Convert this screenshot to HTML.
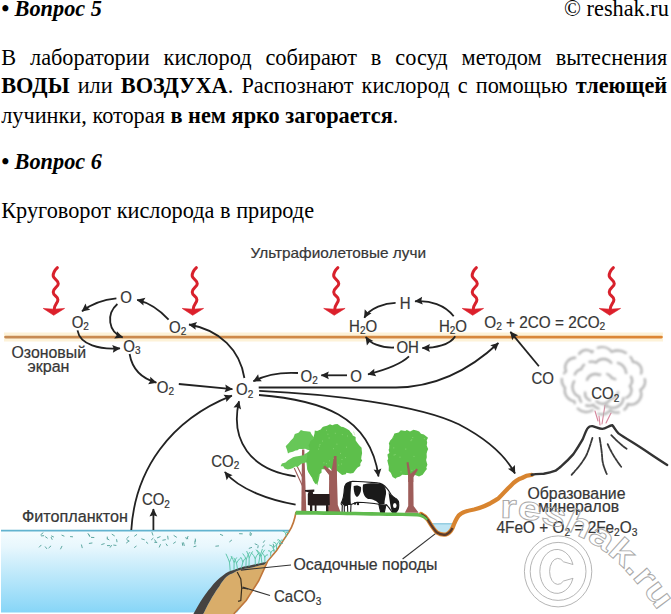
<!DOCTYPE html>
<html><head><meta charset="utf-8">
<style>
html,body{margin:0;padding:0;background:#fff;}
body{width:671px;height:614px;overflow:hidden;position:relative;font-family:"Liberation Serif",serif;color:#000;}
.t{position:absolute;white-space:nowrap;font-size:22.3px;line-height:1;}
.bi{font-weight:bold;font-style:italic}
.j{position:absolute;left:1.2px;width:666px;font-size:22.3px;line-height:1;text-align:justify;text-align-last:justify;white-space:normal;}
svg{position:absolute;left:0;top:0}
svg text{font-family:"Liberation Sans",sans-serif;fill:#363636;font-size:15px}
#labels text{stroke:#363636;stroke-width:0.2px}
</style></head><body>
<div class="t bi" style="left:1.2px;top:-2.5px">• Вопрос 5</div>
<div class="t" style="right:2.1px;top:-2.1px">© reshak.ru</div>
<div class="j" style="top:46.7px">В лаборатории кислород собирают в сосуд методом вытеснения</div>
<div class="j" style="top:75.3px"><b>ВОДЫ</b> или <b>ВОЗДУХА</b>. Распознают кислород с помощью <b>тлеющей</b></div>
<div class="t" style="left:1.2px;top:105.3px">лучинки, которая <b>в нем ярко загорается</b>.</div>
<div class="t bi" style="left:1.2px;top:151px">• Вопрос 6</div>
<div class="t" style="left:1.2px;top:200px">Круговорот кислорода в природе</div>

<svg width="671" height="614" viewBox="0 0 671 614">
<defs>
  <filter id="bl" x="-10%" y="-10%" width="120%" height="120%"><feGaussianBlur stdDeviation="0.85"/></filter>
  <linearGradient id="wg" gradientUnits="userSpaceOnUse" x1="0" y1="530" x2="0" y2="613">
    <stop offset="0" stop-color="#f5fcfe"/>
    <stop offset="0.2" stop-color="#e8f7fd"/>
    <stop offset="0.45" stop-color="#c8ecfb"/>
    <stop offset="1" stop-color="#86d5f7"/>
  </linearGradient>
  <marker id="ah" markerUnits="userSpaceOnUse" markerWidth="12" markerHeight="12" viewBox="-10 -6 12 12" refX="0" refY="0" orient="auto">
    <path d="M0.5,0 L-7.5,-3.9 L-6.3,0 L-7.5,3.9 Z" fill="#222"/>
  </marker>
  <g id="ra">
    <path d="M3.4,0.7 C1,3 -1,5 -0.8,9 C-0.5,12 4.3,13 4.3,16.7 C4.3,20 -0.8,21 -0.8,25 C-0.8,29 3.9,29 3.9,32.7 C3.9,36 0.6,37 0.3,42" fill="none" stroke="#d8212c" stroke-width="3" stroke-linecap="round"/>
    <path d="M-10.8,41.4 L0,42.2 L10.6,41.4 L-0.3,48.3 Z" fill="#dc202b" stroke="#dc202b" stroke-width="0.6" stroke-linejoin="round"/>
  </g>
</defs>


<!-- water left -->
<path d="M1,530.6 L289.1,530.6 L276.6,550.4 L267.7,561.1 L258.7,580.8 L246.2,600.5 L237,612.5 L1,612.5 Z" fill="url(#wg)"/>
<line x1="1" y1="530.6" x2="289.5" y2="530.6" stroke="#62b3cf" stroke-width="1.6"/>
<!-- tan layer -->
<path d="M203.3,614 C210,600 215,592 219.4,586.2 C224,578 229,574 231.9,573.7 C238,570 244,569 248,568.3 C255,567 260,565 264.1,564.7 L267.7,561.1 L258.7,580.8 L246.2,600.5 L233.7,614 Z" fill="#d9ad6a"/>
<!-- dark band -->
<path d="M193.4,614 C200,602 205,594 210.4,588 C215,582 219,578 222.9,575.5 C227,572 230,571 233.7,570.1 C240,567.5 245,566 249.8,565.6 C256,564 261,563 265.9,562 L268,561 L264.1,564.7 C260,565 255,567 248,568.3 C244,569 238,570 231.9,573.7 C229,574 224,578 219.4,586.2 C215,592 210,600 203.3,614 Z" fill="#464341"/>
<!-- cliff edge -->
<path d="M296,512 C295,518 294,524 289.1,531.6 L276.6,550.4 L267.7,561.1 L258.7,580.8 L246.2,600.5 L233.7,614" fill="none" stroke="#c0763a" stroke-width="1.6"/>
<!-- crack -->
<path d="M237.2,571.9 L240.8,579 L241.7,588 L240.8,600.5 L238.1,601.4 M241.7,588 L248,588.9" fill="none" stroke="#3a3020" stroke-width="1.2"/>
<!-- leaders -->
<path d="M240.8,570.1 L291,565" fill="none" stroke="#333" stroke-width="1.1"/>
<path d="M242.6,587.1 L270,595.5" fill="none" stroke="#333" stroke-width="1.1"/>
<path d="M402.6,559 L438.7,531.1" fill="none" stroke="#333" stroke-width="1.1"/>
<!-- pond -->
<path d="M432.5,523.8 L453.5,523.8 C452,530 449,534 446,534.5 C442,534.5 437,531 432.5,523.8 Z" fill="#bfe5f3"/>
<line x1="432" y1="523.8" x2="454" y2="523.8" stroke="#72bcd6" stroke-width="1"/>
<!-- right land profile -->
<path d="M421,514 C424,515.5 426.5,517.5 428,520 C431,525 434,530 437,532.5 C440,534.5 443,535 446,534.5 C449,533.5 451,531 452.5,528 C454,524 456,519 458.7,515.5 C462,512 468,510.5 474,509.5 C479,508.5 485,506 490,503.5 C494,501 496,500 498.3,498.5 C503,494 507,489 510.2,486.3 C514,482 518,479 522.2,477.9 C525,476 528,475 531.7,474.8" fill="none" stroke="#d8842f" stroke-width="4.3" stroke-linecap="round"/>
<path d="M421,514 C424,515.5 426.5,517.5 428,520 C431,525 434,530 437,532.5 C440,534.5 443,535 446,534.5 C449,533.5 451,531 452.5,528" fill="none" stroke="#5b3b2b" stroke-width="2.4"/>
<path d="M531.7,474.8 C536,474 540,474 543.7,473.8 C548,473 552,472 555.6,470.7 C558,469 560,467.5 560.8,466.7 C566,462 570,458 573.4,454.1 C577,449 580,444 582.5,439.7 C585,434 586,430 587.9,428 C589,426.5 591,426 592.4,426.1 C596,427 599,428.8 602.3,428.9 C606,428.5 609,425.5 612.2,425.2 C614,427 616,431 618.5,433.4 C622,436 627,439 631.2,441.5 C645,450 656,458 667.2,464.9" fill="none" stroke="#333" stroke-width="2.4" stroke-linecap="round"/>
<!-- volcano streaks -->
<g fill="none" stroke="#3a3a3a" stroke-width="1.8" stroke-dasharray="5 1.2 3 0.8" stroke-linecap="round">
<path d="M592.4,437.9 C590,446 588,452 586,455.9 C582,463 577,469 571.6,474.8"/>
<path d="M599.6,437.9 C601,446 602,453 602.3,459.5 C603,465 605,470 606.8,474"/>
<path d="M607.7,444.2 C611,452 616,460 621.2,466.7"/>
<path d="M611.3,435.2 C616,440 621,445 626.6,448.7"/>
</g>
<g fill="none" stroke="#d0708a" stroke-width="1.1" stroke-linecap="round" opacity="0.85">
<path d="M598,421 L595,411"/><path d="M602,424 L605,405"/><path d="M606,423 L611,413"/><path d="M600,425 L599,416"/>
</g>

<!-- trees -->
<g fill="#9e5d5a">
<path d="M302,449.5 L304.3,449.5 L306.3,511.5 L301.3,511.5 Z"/>
<path d="M323,467 L325,465.5 L331.5,471.5 L334,456 L336.5,456 L336.8,472 L337.8,505 L340.5,512 L326,512 L328.8,505 L329.2,475 Z"/>
<path d="M406.5,462.5 L408.5,462 L410.5,474 L416.5,468.5 L418,469.8 L413.3,477 L413.6,506 L418.7,512.8 L404.8,512.8 L408.2,506 L408.2,476 Z"/>
</g>
<path d="M294.2,467.9 L302.5,486 M297,466 L303,478" fill="none" stroke="#9e5d5a" stroke-width="1.1"/>
<path d="M285.7,446.3 L289.0,442.7 L290.8,440.4 L293.3,438.1 L294.8,434.0 L298.5,432.7 L300.9,430.0 L303.6,431.1 L306.4,431.3 L310.3,431.7 L311.7,434.4 L314.0,437.5 L313.5,440.9 L313.0,443.3 L313.4,446.5 L312.8,448.8 L312.6,451.9 L309.9,450.0 L308.1,450.1 L305.1,448.8 L303.0,449.1 L299.1,449.0 L297.6,450.3 L295.5,450.6 L292.9,451.8 L289.6,452.4 L288.0,453.6 L286.9,449.5 Z M280.6,466.2 L281.9,463.4 L285.5,462.6 L287.7,460.4 L290.1,459.1 L293.0,457.3 L295.8,456.4 L299.1,456.0 L303.0,455.2 L305.9,454.7 L306.9,456.8 L309.0,459.7 L306.6,461.9 L304.5,462.9 L301.9,463.5 L299.8,465.1 L297.5,467.0 L295.2,466.5 L293.0,468.1 L290.2,468.9 L287.8,469.4 L284.7,468.5 L283.1,466.3 Z M304.1,454.3 L306.8,452.9 L309.7,450.8 L311.3,450.5 L313.4,451.6 L316.2,454.0 L317.7,456.0 L319.2,457.5 L319.4,461.5 L319.5,464.3 L320.0,466.4 L320.4,470.1 L319.3,471.8 L319.7,475.0 L319.1,478.0 L318.6,480.6 L317.8,482.9 L317.4,485.6 L316.2,482.4 L313.3,480.6 L312.7,478.9 L310.9,476.0 L309.5,473.3 L308.0,470.9 L307.1,468.6 L306.8,465.8 L306.5,463.2 L305.7,459.2 L305.5,457.6 Z" fill="#67c758"/>
<path d="M308.5,445.2 L309.9,442.9 L310.3,440.9 L313.1,439.3 L313.9,435.7 L314.5,433.4 L314.8,430.6 L317.1,431.0 L320.6,429.5 L322.7,427.0 L323.9,426.6 L327.0,425.8 L330.0,424.2 L332.3,425.3 L334.8,424.2 L337.5,424.0 L341.2,426.8 L343.2,426.9 L346.7,428.7 L349.5,430.5 L350.3,431.7 L352.1,433.8 L352.8,435.6 L355.6,437.1 L355.7,440.4 L357.5,442.9 L359.2,445.3 L361.6,447.8 L361.8,450.6 L362.1,453.3 L361.4,456.7 L361.2,458.9 L362.2,460.5 L360.4,463.3 L360.3,466.0 L357.6,467.4 L355.9,469.6 L354.1,472.1 L353.3,473.1 L350.4,473.6 L346.4,472.7 L345.8,474.2 L342.1,475.0 L340.2,473.5 L337.2,471.1 L334.9,469.9 L332.1,470.6 L329.4,467.6 L326.2,468.4 L325.1,469.3 L321.6,469.2 L321.5,472.8 L318.4,475.1 L317.4,478.1 L318.0,480.9 L316.1,484.4 L314.8,483.3 L312.9,480.2 L312.5,477.8 L310.2,474.9 L308.2,472.1 L307.4,469.6 L307.4,467.9 L308.1,464.6 L306.1,461.5 L306.8,458.7 L307.1,457.4 L307.3,453.1 L309.2,451.5 L309.6,448.5 Z" fill="#5dbf4b"/>
<path d="M390.2,440.5 L392.1,438.4 L393.5,435.8 L394.4,433.6 L398.6,432.6 L400.8,430.2 L402.5,430.4 L405.3,430.9 L406.8,430.1 L410.0,431.4 L413.5,429.8 L416.6,430.6 L419.2,431.4 L421.0,433.7 L423.9,434.4 L428.0,437.7 L426.7,440.4 L427.2,442.4 L426.7,445.4 L427.7,447.9 L428.2,449.1 L427.2,451.3 L426.6,453.7 L426.8,457.3 L426.1,460.1 L426.6,461.9 L427.4,464.8 L426.3,467.4 L426.9,469.1 L425.3,471.0 L422.7,474.7 L419.0,476.6 L417.1,475.8 L413.7,474.4 L411.4,475.9 L407.9,475.0 L405.9,474.9 L402.2,474.7 L400.0,476.6 L396.7,477.5 L395.6,478.7 L392.6,476.9 L391.2,473.7 L390.7,472.8 L388.7,470.8 L388.8,466.6 L388.0,463.4 L387.3,460.3 L388.2,459.0 L387.4,454.5 L389.4,452.9 L388.6,449.8 L389.2,448.4 L389.3,445.0 L388.8,443.4 Z" fill="#5dbf4b"/>
<path d="M336.5,444.2 h0.8 M323.5,462.9 h0.8 M318.3,449.1 h0.8 M353.9,433.1 h0.8 M340.2,453.4 h0.8 M319.6,444.4 h0.8 M346.1,447.2 h0.8 M347.0,436.0 h0.8 M327.5,434.2 h0.8 M338.3,465.1 h0.8 M341.6,459.4 h0.8 M333.3,458.4 h0.8 M322.1,441.1 h0.8 M345.0,457.6 h0.8 M334.9,433.3 h0.8 M328.7,438.0 h0.8 M329.2,460.8 h0.8 M326.0,463.7 h0.8 M353.2,432.1 h0.8 M333.2,448.7 h0.8 M318.9,446.1 h0.8 M354.3,434.3 h0.8 M341.9,434.6 h0.8 M341.1,464.0 h0.8 M326.1,430.3 h0.8 M394.7,454.5 h0.8 M392.6,437.2 h0.8 M407.9,469.0 h0.8 M405.4,449.1 h0.8 M412.4,437.5 h0.8 M410.6,440.6 h0.8 M411.5,470.4 h0.8 M393.7,455.1 h0.8 M411.4,439.7 h0.8 M400.6,471.8 h0.8 M423.9,438.6 h0.8 M414.6,470.1 h0.8 M399.6,457.2 h0.8 M393.4,447.9 h0.8 M413.6,456.4 h0.8" stroke="#9fe08a" stroke-width="1" opacity="0.7"/>
<g fill="#9e5d5a">
<path d="M323,467 L325,465.5 L331.5,471.5 L334,456 L336.5,456 L336.8,472 L337,480 L329.2,480 L329.2,475 Z"/>
<path d="M406.5,462.5 L408.5,462 L410.5,474 L416.5,468.5 L418,469.8 L413.3,477 L413.3,482 L408.2,482 L408.2,476 Z"/>
</g>
<!-- goat -->
<path d="M305,490 L314.3,489.6 L314.3,491.6 L312.8,492.2 L313.2,494 L329.6,494 L329.8,505 L328.4,505.5 L328.4,513.8 L326,513.8 L326,505.5 L316.5,505.5 L316.5,513.8 L314.7,513.8 L314.7,505.5 L312.3,505.5 L312.3,513.8 L310,513.8 L310,505.5 L307.8,505 L307.8,494 L308.6,492.2 L305,491.6 Z" fill="#271c1c"/>
<!-- cow -->
<path d="M346.4,483.4 C349,482 351,481.3 352.7,481.3 L363.1,481.8 L377.7,482.9 C381,483 384,485 387.1,488.6 C389,491 390,493 391.3,494.9 C393,497 395,498 396.5,499 C398,500.5 399,502 398.6,503.2 C399,506 398.5,509 397.5,510.5 C396.5,512 395.5,513 394.4,513.6 L392,512 C390,509 388,506 386,504.5 L384,514 L381,514 L378.8,504.2 C372,503 365,502.5 357,502.2 L351,504.5 L350.6,514 L347.8,514 L347.5,505 L344.3,506 L344.3,514 L342,514 L342.3,505.3 C341.5,505 341,504 341.2,503 C343,500 344,495 344.3,489 C344.6,486 345.5,484.5 346.4,483.4 Z" fill="#fff" stroke="#1a1a1a" stroke-width="1.1" stroke-linejoin="round"/>
<g fill="#1a1a1a">
<path d="M346.4,483.4 C348,482.2 350,481.8 351.6,482 C351,488 350,495 351,505 L347.5,505 L344.3,506 C343,505 342,504 341.5,503 C343,500 344,495 344.3,489 C344.6,486 345.5,484.5 346.4,483.4 Z"/>
<path d="M353.7,486 C356,485 359,485.5 361,487 C361.5,491 360,495 357,497 C355,496 353.5,492 353.7,486 Z"/>
<path d="M363,484.5 C368,483 376,483 382,484 C385,486 386.5,490 386,494 C385.5,497 384.5,500 384.5,504 L379,504 C377,501 373,499 368,499 C364,497 362,492 363,484.5 Z"/>
<path d="M388.5,492 C390,494 393,497 396.5,499 C398,500.5 399,502 398.6,503.2 C399,506 398.5,509 397.5,510.5 C396.5,512 395.5,513 394.4,513.6 L392,512 C391,509 390.5,506 390,503 C389.5,500 389,496 388.5,492 Z"/>
<ellipse cx="394.8" cy="505.5" rx="1.8" ry="2.6" fill="#fff"/>
<path d="M378.8,504 L381,514 L384,514 L386,504.5 Z"/>
<circle cx="355" cy="503.5" r="1.2"/><circle cx="358" cy="504" r="1.2"/>
</g>
<!-- grass -->
<path d="M296,510.8 C330,511.3 380,512.3 418,513 C422,514 425,516 428,519 L426.5,520.5 C423,517.5 420,516.5 417,516.5 C380,516 330,515 295,514.8 Z" fill="#60bb4e"/>


<!-- phytoplankton -->
<path d="M175.5,542.0 L173.6,543.3 M196.0,546.1 L193.9,546.7 M194.9,541.0 L194.9,543.9 M165.4,539.7 L162.8,540.2 M107.3,537.0 L107.3,539.0 M183.6,542.8 L184.2,545.6 M264.6,540.7 L263.4,542.4 M45.3,546.8 L46.7,548.6 M255.1,543.9 L257.2,544.8 M91.4,537.4 L93.9,537.5 M107.2,538.6 L109.0,539.8 M41.1,545.2 L39.3,547.1 M61.9,535.2 L64.0,536.1 M45.5,536.8 L47.3,538.1 M195.3,539.0 L195.5,541.3 M166.2,544.0 L167.3,545.7 M153.1,538.3 L151.5,539.7 M250.3,532.5 L250.0,534.9 M111.5,545.5 L110.2,547.3 M154.7,542.3 L156.8,542.5 M182.3,542.9 L182.6,545.3 M160.1,536.7 L157.4,537.8 M152.0,532.5 L152.9,535.1 M112.1,534.3 L114.4,535.8 M188.0,536.4 L187.0,538.9 M273.2,544.2 L273.8,546.9 M264.3,545.2 L262.4,547.0 M160.4,544.6 L159.3,547.1 M88.1,533.9 L89.8,535.8 M174.0,535.6 L176.5,537.2 M50.8,546.1 L48.9,547.8 M279.4,543.3 L282.4,543.4 M136.2,546.2 L134.5,547.4 M43.0,532.9 L40.8,534.7 M88.4,533.9 L89.6,536.4 M218.6,545.9 L215.8,546.2 M239.5,533.7 L242.3,533.8 M185.6,537.8 L187.8,538.7 M116.6,539.6 L117.0,541.8 M51.5,536.0 L53.5,536.9 M136.7,534.6 L134.6,536.1 M146.3,542.1 L147.8,543.4 M51.2,537.4 L52.1,539.4 M107.4,545.6 L109.8,545.6 M128.5,536.7 L127.0,538.4 M43.7,535.7 L41.4,535.9 M61.9,546.3 L60.6,548.9 M113.7,545.1 L116.0,545.4 M231.6,540.2 L229.7,541.7 M251.5,533.6 L250.7,535.6 M81.5,544.9 L82.2,547.7 M104.2,543.7 L101.7,544.5 M92.0,543.0 L89.3,543.4 M141.7,538.9 L144.3,539.7 M70.5,536.6 L72.6,536.8 M126.9,539.8 L129.0,541.0 M220.4,534.4 L222.7,535.4 M258.2,545.8 L257.8,547.8 M251.6,547.5 L249.2,548.3 M128.8,541.1 L126.5,542.9 M154.7,539.8 L156.1,541.9 M167.7,536.2 L168.1,539.1" fill="none" stroke="#5fa8a2" stroke-width="1" stroke-linecap="round"/>
<!-- seaweed -->
<path d="M230.2,570.7 L229.5,562.3 Q228.5,559.3 226.1,554.1 M229.5,562.3 Q230.5,559.3 232.0,557.0 M234.0,569.8 L234.1,562.5 Q233.1,559.5 231.2,556.3 M234.1,562.5 Q235.1,559.5 236.5,557.8 M237.5,568.9 L236.5,563.1 Q235.5,560.1 234.0,558.1 M236.5,563.1 Q237.5,560.1 240.3,558.4 M241.4,568.0 L242.9,562.1 Q241.9,559.1 240.8,557.4 M242.9,562.1 Q243.9,559.1 245.6,558.1 M245.9,566.9 L246.2,559.5 Q245.2,556.5 242.9,553.8 M246.2,559.5 Q247.2,556.5 249.4,552.5 M249.0,566.1 L249.2,557.8 Q248.2,554.8 246.8,551.4 M249.2,557.8 Q250.2,554.8 252.4,551.7 M255.3,564.6 L255.2,558.6 Q254.2,555.6 251.4,552.9 M255.2,558.6 Q256.2,555.6 258.7,552.9 M258.6,563.8 L259.9,556.3 Q258.9,553.3 256.3,549.9 M259.9,556.3 Q260.9,553.3 262.3,549.3 M261.9,563.0 L261.1,556.2 Q260.1,553.2 257.3,550.4 M261.1,556.2 Q262.1,553.2 264.5,550.1 M264.9,562.3 L264.8,557.2 Q263.8,554.2 262.3,553.0 M264.8,557.2 Q265.8,554.2 267.6,554.7 M270.7,556.1 L270.7,552.7 Q269.7,549.7 268.4,550.6 M270.7,552.7 Q271.7,549.7 274.7,549.9 M274.2,551.8 L273.3,548.1 Q272.3,545.1 269.7,545.0 M273.3,548.1 Q274.3,545.1 275.6,545.6 M276.5,549.0 L276.6,545.0 Q275.6,542.0 273.8,542.2 M276.6,545.0 Q277.6,542.0 279.2,541.3 M279.9,544.8 L280.2,541.5 Q279.2,538.5 277.5,539.9 M280.2,541.5 Q281.2,538.5 283.2,540.4 M286.4,536.7 L285.5,533.5 Q284.5,530.5 283.2,531.2 M285.5,533.5 Q286.5,530.5 288.6,532.6" fill="none" stroke="#55c2a4" stroke-width="0.9" stroke-linecap="round"/>
<!-- cloud -->
<g fill="none" stroke="#b3b3b3" stroke-width="2.3" stroke-linecap="round" filter="url(#bl)">
<path d="M640.3,389.9 A10.4,10.4 0 0 1 627.9,404.1 A11.6,11.6 0 0 1 610.0,410.5 A11.1,11.1 0 0 1 592.9,410.0 A11.9,11.9 0 0 1 574.4,401.4 A11.2,11.2 0 0 1 565.0,387.9 A11.1,11.1 0 0 1 566.0,371.4 A9.9,9.9 0 0 1 577.8,358.1 A8.4,8.4 0 0 1 591.9,352.2 A12.4,12.4 0 0 1 611.7,351.8 A16.0,16.0 0 0 1 633.0,361.8 A8.8,8.8 0 0 1 640.9,374.0 A9.2,9.2 0 0 1 640.3,389.9" stroke-dasharray="30 6 22 7 16 6"/>
<path d="M623.4,398.2 A10.4,10.4 0 0 1 606.8,405.7 A8.2,8.2 0 0 1 593.3,404.9 A9.8,9.8 0 0 1 579.3,396.8 A10.6,10.6 0 0 1 574.2,381.2 A9.6,9.6 0 0 1 581.3,369.2 A11.0,11.0 0 0 1 596.0,362.5 A9.8,9.8 0 0 1 611.7,363.4 A10.4,10.4 0 0 1 626.0,372.7 A8.1,8.1 0 0 1 629.9,386.0 A7.7,7.7 0 0 1 623.4,398.2" stroke-dasharray="24 7 14 6"/>
<path d="M610.2,398.9 A8.7,8.7 0 0 1 595.4,400.3 A7.5,7.5 0 0 1 585.1,392.7 A8.1,8.1 0 0 1 586.7,381.0 A8.6,8.6 0 0 1 599.3,375.1 A8.7,8.7 0 0 1 612.0,378.1 A7.3,7.3 0 0 1 618.0,388.3 A8.4,8.4 0 0 1 610.2,398.9" stroke-dasharray="16 7 10 14"/>
</g>

<!-- orange line -->
<line x1="4" y1="337.1" x2="663" y2="337.1" stroke="#fdf2d8" stroke-width="9"/>
<defs><linearGradient id="og" gradientUnits="userSpaceOnUse" x1="5" x2="662" y1="0" y2="0"><stop offset="0" stop-color="#c68b55"/><stop offset="1" stop-color="#dd8634"/></linearGradient></defs><line x1="5.5" y1="337.1" x2="661.5" y2="337.1" stroke="url(#og)" stroke-width="2.7" stroke-linecap="round"/>

<!-- red UV arrows -->
<use href="#ra" x="54" y="267"/>
<use href="#ra" x="193" y="267"/>
<use href="#ra" x="334.5" y="267"/>
<use href="#ra" x="473" y="267"/>
<use href="#ra" x="610" y="267"/>


<!-- arrows -->
<g fill="none" stroke="#222" stroke-width="1.8" marker-end="url(#ah)">
<path d="M116.4,298.4 C100,300 90,305 82,311.3"/>
<path d="M117.4,304 C106,314 108,332 122.6,337.4"/>
<path d="M168.6,319.7 C160,310 150,303 137.2,299.8"/>
<path d="M244.4,378 C240,350 220,330 189,324.5"/>
<path d="M77.5,330.4 C80,345 100,350 120,348.3"/>
<path d="M129.6,354 C132,368 140,378 156.4,382.6"/>
<path d="M178.8,384 L232.4,389.2"/>
<path d="M131.3,530 C135,470 170,420 231.9,395.6"/>
<path d="M295.6,476.3 C250,470 230,440 239,401.2"/>
<path d="M295.6,504.6 C270,500 240,490 224.8,472"/>
<path d="M298,373 C280,372 265,375 253.4,381.3"/>
<path d="M347,375.3 L321.3,375.3"/>
<path d="M409,356.4 C400,365 385,370 368,374.3"/>
<path d="M453.7,316.2 C445,305 430,300 415,301.3"/>
<path d="M395.6,302.8 C385,303 370,308 364.3,317.7"/>
<path d="M455.2,336.2 C450,345 435,348 422.4,348"/>
<path d="M394,347.5 C380,348 370,343 365.8,337"/>
<path d="M258.7,387.5 L396,387.5 C440,387 475,365 498.4,343"/>
<path d="M538.9,366.3 L510.4,331.9"/>
<path d="M259.2,390.9 C330,394 420,405 458.7,424.3 C485,438 505,455 515,473.5"/>
<path d="M259,395 C320,400 370,415 378.5,476.4"/>
<path d="M153.4,530 L153.4,509"/>
</g>

<!-- labels -->
<g id="labels">
<text x="250.5" y="257.8" font-size="13.5" textLength="175.5" lengthAdjust="spacingAndGlyphs">Ультрафиолетовые лучи</text>
<text transform="translate(0,303.3) scale(1,1.07) translate(0,-303.3)" x="120.3" y="303.3">O</text>
<text transform="translate(0,327.6) scale(1,1.07) translate(0,-327.6)" x="71.7" y="327.6">O<tspan font-size="10" dy="2.5">2</tspan></text>
<text transform="translate(0,332.6) scale(1,1.07) translate(0,-332.6)" x="169" y="332.6">O<tspan font-size="10" dy="2.5">2</tspan></text>
<text transform="translate(0,351.6) scale(1,1.07) translate(0,-351.6)" x="123.3" y="351.6">O<tspan font-size="10" dy="2.5">3</tspan></text>
<text transform="translate(0,392.8) scale(1,1.07) translate(0,-392.8)" x="156.8" y="392.8">O<tspan font-size="10" dy="2.5">2</tspan></text>
<text transform="translate(0,395.4) scale(1,1.07) translate(0,-395.4)" x="236.1" y="395.4">O<tspan font-size="10" dy="2.5">2</tspan></text>
<text transform="translate(0,381.6) scale(1,1.07) translate(0,-381.6)" x="300.6" y="381.6">O<tspan font-size="10" dy="2.5">2</tspan></text>
<text transform="translate(0,381.6) scale(1,1.07) translate(0,-381.6)" x="350.2" y="381.6">O</text>
<text transform="translate(0,308.7) scale(1,1.07) translate(0,-308.7)" x="399.8" y="308.7">H</text>
<text transform="translate(0,331.6) scale(1,1.07) translate(0,-331.6)" x="349.1" y="331.6">H<tspan font-size="10" dy="2.5">2</tspan><tspan dy="-2.5">O</tspan></text>
<text transform="translate(0,331.6) scale(1,1.07) translate(0,-331.6)" x="438.9" y="331.6">H<tspan font-size="10" dy="2.5">2</tspan><tspan dy="-2.5">O</tspan></text>
<text transform="translate(0,353.5) scale(1,1.07) translate(0,-353.5)" x="396.4" y="353.5">OH</text>
<text transform="translate(0,327.6) scale(1,1.07) translate(0,-327.6)" x="484.3" y="327.6" textLength="121" lengthAdjust="spacingAndGlyphs">O<tspan font-size="10" dy="2.5">2</tspan><tspan dy="-2.5"> + 2CO = 2CO</tspan><tspan font-size="10" dy="2.5">2</tspan></text>
<text transform="translate(0,384.1) scale(1,1.07) translate(0,-384.1)" x="531.5" y="384.1">CO</text>
<text transform="translate(0,398.9) scale(1,1.07) translate(0,-398.9)" x="591.2" y="398.9">CO<tspan font-size="10" dy="2.5">2</tspan></text>
<text transform="translate(0,466.8) scale(1,1.07) translate(0,-466.8)" x="211.2" y="466.8">CO<tspan font-size="10" dy="2.5">2</tspan></text>
<text transform="translate(0,505.0) scale(1,1.07) translate(0,-505.0)" x="141.9" y="505.0">CO<tspan font-size="10" dy="2.5">2</tspan></text>
<text transform="translate(0,521.8) scale(1,1.06) translate(0,-521.8)" x="22" y="521.8" textLength="106" lengthAdjust="spacingAndGlyphs">Фитопланктон</text>
<text transform="translate(0,358.3) scale(1,1.06) translate(0,-358.3)" x="11.5" y="358.3" textLength="74.5" lengthAdjust="spacingAndGlyphs">Озоновый</text>
<text transform="translate(0,372.1) scale(1,1.06) translate(0,-372.1)" x="27.5" y="372.1" textLength="42" lengthAdjust="spacingAndGlyphs">экран</text>
<text transform="translate(0,570.5) scale(1,1.06) translate(0,-570.5)" x="293.5" y="570.5" textLength="144" lengthAdjust="spacingAndGlyphs">Осадочные породы</text>
<text transform="translate(0,602.2) scale(1,1.07) translate(0,-602.2)" x="274" y="602.2">CaCO<tspan font-size="10" dy="2.5">3</tspan></text>
<text transform="translate(0,499.0) scale(1,1.06) translate(0,-499.0)" x="527.5" y="499" textLength="98" lengthAdjust="spacingAndGlyphs">Образование</text>
<text transform="translate(0,512.0) scale(1,1.06) translate(0,-512.0)" x="538" y="512" textLength="81" lengthAdjust="spacingAndGlyphs">минералов</text>
<text transform="translate(0,533.4) scale(1,1.07) translate(0,-533.4)" x="496.5" y="533.4" textLength="141" lengthAdjust="spacingAndGlyphs">4FeO + O<tspan font-size="10" dy="2.5">2</tspan><tspan dy="-2.5"> = 2Fe</tspan><tspan font-size="10" dy="2.5">2</tspan><tspan dy="-2.5">O</tspan><tspan font-size="10" dy="2.5">3</tspan></text>
</g>
<!-- watermark -->
<g fill="none" stroke="#a8a8a8" stroke-width="0.85">
<ellipse cx="558.1" cy="571.4" rx="33.7" ry="35.5"/>
<ellipse cx="558.1" cy="571.4" rx="27.9" ry="29"/>
<path d="M573,564.5 A17,22 0 1 0 573,578.3 L563.5,581 A8.3,13 0 1 1 563.5,561.8 Z"/>
<path id="wmp" d="M500,518 C540,516 590,535 620,565 C635,580 650,598 664,620" stroke="none"/>
<text style="font-size:33px;font-weight:bold;fill:none;stroke:#a8a8a8;stroke-width:0.85"><textPath href="#wmp" textLength="192" lengthAdjust="spacingAndGlyphs">reshak.ru</textPath></text>
</g>
</svg>
</body></html>
